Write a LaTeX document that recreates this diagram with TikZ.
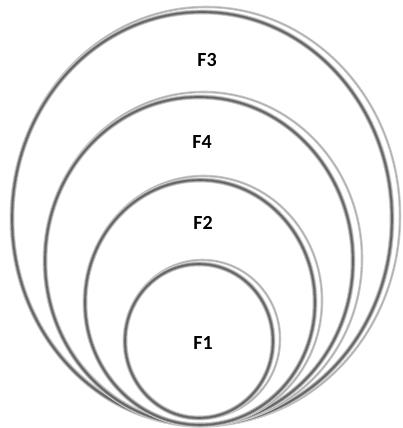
\documentclass[tikz,border=0pt]{standalone}
\usepackage{fontspec}
\setmainfont{Carlito}
\usepackage{tikz}
\usetikzlibrary{positioning}
\definecolor{ringDark}{RGB}{100, 100, 100}
\definecolor{ringMid}{RGB}{150, 150, 150}
\definecolor{ringLight}{RGB}{205, 205, 205}
\definecolor{ringShade}{RGB}{175, 175, 175}
\tikzset{
  ringedge/.style={line width=5pt, ringLight},
  ringmain/.style={line width=3.2pt, ringMid},
  ringcore/.style={line width=1.6pt, ringDark},
  ringback/.style={line width=2.6pt, ringLight},
  ringbackcore/.style={line width=1pt, ringShade},
  flabel/.style={font=\fontsize{20}{24}\selectfont\bfseries, text=black}
}

\begin{document}
\begin{tikzpicture}[x=1pt, y=1pt]
  \useasboundingbox (0,0) rectangle (402,428);
  % F3: outer ring
  \draw[ringback] (206,212) ellipse (194 and 209);
  \draw[ringbackcore] (206,212) ellipse (194 and 209);
  \draw[ringedge] (202,209.5) ellipse (190 and 206.5);
  \draw[ringmain] (202,209.5) ellipse (190 and 206.5);
  \draw[ringcore] (202,209.5) ellipse (190 and 206.5);
  % F4
  \draw[ringback] (203.5,169.5) ellipse (158.5 and 166.5);
  \draw[ringbackcore] (203.5,169.5) ellipse (158.5 and 166.5);
  \draw[ringedge] (199,167) ellipse (154 and 164);
  \draw[ringmain] (199,167) ellipse (154 and 164);
  \draw[ringcore] (199,167) ellipse (154 and 164);
  % F2
  \draw[ringback] (203.5,127.5) ellipse (118.5 and 124.5);
  \draw[ringbackcore] (203.5,127.5) ellipse (118.5 and 124.5);
  \draw[ringedge] (200,125.5) ellipse (115 and 122.5);
  \draw[ringmain] (200,125.5) ellipse (115 and 122.5);
  \draw[ringcore] (200,125.5) ellipse (115 and 122.5);
  % F1: inner ring
  \draw[ringback] (202.5,89) ellipse (77.5 and 79);
  \draw[ringbackcore] (202.5,89) ellipse (77.5 and 79);
  \draw[ringedge] (199,87) ellipse (74 and 77);
  \draw[ringmain] (199,87) ellipse (74 and 77);
  \draw[ringcore] (199,87) ellipse (74 and 77);
  % labels
  \node[flabel] (fthree) at (207,368) {F3};
  \node[flabel] (ffour) at (202,286) {F4};
  \node[flabel] (ftwo) at (203,205) {F2};
  \node[flabel] (fone) at (203,85) {F1};
\end{tikzpicture}
\end{document}
